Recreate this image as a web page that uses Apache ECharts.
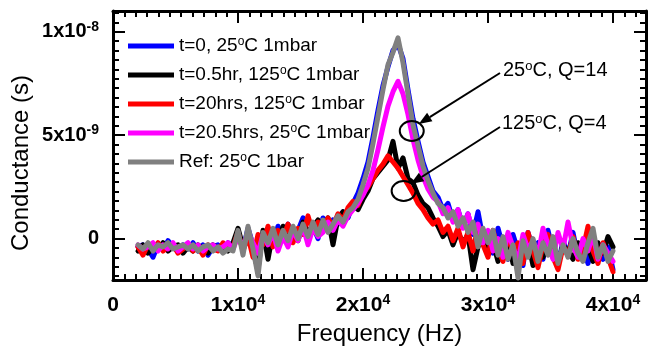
<!DOCTYPE html>
<html><head><meta charset="utf-8">
<script src="https://cdn.jsdelivr.net/npm/echarts@6/dist/echarts.min.js"></script>
<style>html,body{margin:0;padding:0;background:#fff}#c{width:650px;height:351px}</style>
</head><body><div id="c"></div>
<script>
// Frequency grid (Hz)
const freq = [2000,2400,2800,3200,3600,4000,4400,4800,5200,5600,
6000,6400,6800,7200,7600,8000,8400,8800,9200,9600,
10000,10400,10800,11200,11600,12000,12400,12800,13200,13600,
14000,14400,14800,15200,15600,16000,16400,16800,17200,17600,
18000,18400,18800,19200,19600,20000,20400,20800,21200,21600,
22000,22400,22800,23200,23600,24000,24400,24800,25200,25600,
26000,26400,26800,27200,27600,28000,28400,28800,29200,29600,
30000,30400,30800,31200,31600,32000,32400,32800,33200,33600,
34000,34400,34800,35200,35600,36000,36400,36800,37200,37600,
38000,38400,38800,39200,39600,40000];

// Conductance values in units of 1e-9 S
const blueT0 = [-0.4,-0.3,-0.5,-0.9,-0.3,-0.5,-0.1,-0.4,-0.6,-0.3,
-0.5,-0.2,-0.6,-0.3,-0.8,-0.4,-0.3,-0.5,-0.2,-0.4,
0.2,-0.5,0.5,-0.3,-0.6,0.1,0.5,-0.2,0.6,-0.1,
0.7,0.0,0.4,1.0,0.2,0.6,0.0,1.0,0.5,0.9,
0.7,1.3,1.0,1.7,2.2,2.9,3.7,4.9,6.2,7.4,
8.3,9.1,9.4,8.7,7.2,5.8,4.7,3.7,3.0,2.3,
2.0,1.4,1.7,0.9,1.4,0.6,1.2,0.2,1.3,0.0,
0.3,-0.7,0.5,-0.4,-1.0,0.2,-0.6,-1.3,0.3,-0.5,
-0.2,-1.0,0.4,-0.6,-1.3,-0.1,-0.8,0.3,-0.9,-0.4,
-1.2,-0.2,-0.7,-1.0,-0.4,-1.5];

const blackT05 = [-0.6,-0.3,-0.7,-0.4,-0.5,-0.2,-0.6,-0.4,-0.3,-0.7,
-0.4,-0.6,-0.3,-0.5,-0.7,-0.3,-0.5,-0.4,-0.6,-0.2,
0.5,-0.4,0.2,-0.6,-1.5,0.4,-1.0,0.3,-0.2,0.6,
0.1,0.5,-0.1,0.8,0.3,0.6,0.9,0.4,1.0,-0.3,
1.0,1.3,1.1,1.6,1.4,1.9,2.3,2.9,3.2,3.5,
3.8,4.7,3.4,3.9,2.9,2.7,2.1,1.7,1.5,1.0,
0.6,0.1,0.4,-0.3,0.3,-0.2,0.2,-1.5,-0.4,0.1,
-0.8,-0.2,-1.1,-0.5,0.0,-1.2,-0.4,-0.9,-0.1,-1.3,
-0.5,-0.9,0.0,-0.7,-1.2,-0.3,-0.6,-1.0,-0.2,-0.8,
-0.4,-1.1,-0.2,-0.7,0.1,-0.4];

const redT20 = [-0.4,-0.8,-0.3,-0.5,-0.2,-0.6,-0.4,-0.3,-0.7,-0.5,
-0.3,-0.6,-0.4,-0.8,-0.3,-0.5,-0.6,-0.2,-0.5,-0.4,
0.3,-0.6,0.1,-0.9,0.2,-0.3,0.6,-0.4,0.4,0.0,
0.7,-0.2,0.5,0.2,1.1,0.3,0.8,0.5,1.0,0.6,
1.2,0.9,1.5,1.8,1.6,2.2,2.5,2.9,3.3,3.6,
4.0,3.7,3.4,3.0,2.6,2.2,1.7,1.4,1.0,0.7,
0.9,0.3,0.6,-0.1,0.5,-0.4,0.3,-0.6,0.6,-0.3,
-0.9,0.4,-0.5,-1.1,0.2,-0.7,-0.2,-1.2,0.3,-0.6,
-1.4,-0.3,0.2,-0.9,-1.5,-0.4,-0.8,0.1,-1.0,-0.5,
0.6,-0.6,-1.2,-0.2,-0.9,-1.6];

const magentaT205 = [-0.3,-0.5,-0.4,-0.2,-0.6,-0.3,-0.5,-0.2,-0.6,-0.4,
-0.2,-0.5,-0.3,-0.6,-0.4,-0.3,-0.5,-0.4,-0.2,-0.5,
0.1,-0.4,0.3,-0.2,-0.7,0.2,-0.3,0.3,-0.6,0.1,
-0.4,0.4,-0.1,0.6,-0.3,0.5,0.1,0.3,0.8,0.4,
0.9,0.6,1.1,1.4,1.7,2.1,2.6,3.3,4.3,5.4,
6.4,7.1,7.6,7.0,6.0,4.8,3.8,3.0,2.4,2.0,
1.8,1.2,1.5,0.8,1.4,0.5,1.2,0.3,0.7,-0.2,
0.4,-0.6,0.0,-0.9,0.3,-0.4,-1.1,0.2,-0.5,-0.1,
-0.8,0.5,-0.3,-1.0,0.3,-0.5,0.8,-0.4,-0.9,0.0,
-0.6,0.2,-1.0,-0.3,-0.7,-1.1];

const grayRef = [-0.3,-0.5,-0.2,-0.6,-0.3,-0.4,-0.2,-0.5,-0.4,-0.3,
-0.5,-0.3,-0.6,-0.4,-0.3,-0.6,-0.4,-0.7,-0.5,-0.6,
0.4,-0.8,0.6,-0.5,-1.8,0.3,-0.2,0.5,-0.3,0.4,
-0.1,0.6,0.0,0.7,0.1,0.8,0.2,0.9,0.3,0.7,
1.1,0.8,1.3,1.5,1.9,2.6,3.4,4.6,5.9,7.2,
8.4,9.0,9.7,8.5,7.0,5.5,4.5,3.5,2.8,2.2,
1.7,1.5,1.0,1.3,0.6,1.0,0.3,0.8,-0.4,0.5,
-0.2,0.4,-0.8,0.1,-1.0,-0.3,-1.9,-0.1,-0.9,0.0,
-1.1,-0.2,-0.8,0.1,-1.2,-0.3,-0.9,0.0,-0.7,-1.1,
-0.2,0.5,-0.9,-0.3,-1.1,-0.6];

const seriesNames = ['t=0, 25°C 1mbar','t=0.5hr, 125°C 1mbar','t=20hrs, 125°C 1mbar','t=20.5hrs, 25°C 1mbar','Ref: 25°C 1bar'];
const seriesValues = [blueT0, blackT05, redT20, magentaT205, grayRef];
const seriesColors = ['#0000ff','#000000','#ff0000','#ff00ff','#808080'];

const xTicks = [0,10000,20000,30000,40000];
const xTickLabels = ['0','1x10{s|4}','2x10{s|4}','3x10{s|4}','4x10{s|4}'];
const yTicks = [0,5,10];
const yTickLabels = ['0','5x10{s|-9}','1x10{s|-8}'];

const annotations = [
  {text:'25{o|o}C, Q=14', at:[23900, 5.2], textPos:[503, 70], from:[500, 73]},
  {text:'125{o|o}C, Q=4', at:[23250, 2.3], textPos:[502, 123], from:[500, 127]}
];

const FONT = 'Liberation Sans, Arial, Helvetica, sans-serif';
const X_MIN = 0, X_MAX = 42640, Y_MIN = -2, Y_MAX = 11;

// minor tick positions (11 subdivisions per major interval)
const xMinor = [], yMinor = [];
for (let k = 0; k * 10000 / 11 <= X_MAX; k++) if (k % 11) xMinor.push(k * 10000 / 11);
for (let k = -4; k * 5 / 11 <= Y_MAX; k++) if (k % 11) yMinor.push(k * 5 / 11);

const chart = echarts.init(document.getElementById('c'), null, {renderer:'canvas'});

const tickLabelRich = {
  s: {fontSize: 14, fontWeight: 'bold', fontFamily: FONT, color: '#000', verticalAlign: 'top', lineHeight: 14}
};
function xFmt(v){ const i = xTicks.indexOf(v); return i >= 0 ? xTickLabels[i] : ''; }
function yFmt(v){ const i = yTicks.indexOf(v); return i >= 0 ? yTickLabels[i] : ''; }

function makeAxis(pos, isX, major, extra){
  return Object.assign({
    type:'value', position:pos, min: isX?X_MIN:Y_MIN, max: isX?X_MAX:Y_MAX,
    splitLine:{show:false},
    axisLine:{show:major, onZero:false, lineStyle:{color:'#000', width:3}},
    axisTick:{show:true, inside:true, length: major?12:6,
      customValues: major ? (isX?xTicks:yTicks) : (isX?xMinor:yMinor),
      lineStyle:{color:'#000', width:2}},
    axisLabel:{show:false}
  }, extra || {});
}

const xAxes = [
  makeAxis('bottom', true, true, {
    axisLabel:{show:true, customValues:xTicks, formatter:xFmt, margin:13, color:'#000', fontSize:21, fontWeight:'bold', fontFamily:FONT, lineHeight:24, rich:tickLabelRich},
    name:'Frequency (Hz)', nameLocation:'middle', nameGap:42,
    nameTextStyle:{fontSize:24, fontFamily:FONT, color:'#000'}
  }),
  makeAxis('bottom', true, false),
  makeAxis('top', true, true),
  makeAxis('top', true, false)
];
const yAxes = [
  makeAxis('left', false, true, {
    axisLabel:{show:true, customValues:yTicks, formatter:yFmt, margin:14, color:'#000', fontSize:20, fontWeight:'bold', fontFamily:FONT, lineHeight:24, rich:tickLabelRich}
  }),
  makeAxis('left', false, false),
  makeAxis('right', false, true),
  makeAxis('right', false, false)
];

// every axis shares the same range; spread the series over them so each axis has data
const axisOfSeries = [1, 2, 3, 0, 0];
const series = seriesNames.map((name, si) => ({
  name, type:'line', xAxisIndex:axisOfSeries[si], yAxisIndex:axisOfSeries[si],
  data: freq.map((f, i) => [f, seriesValues[si][i]]),
  showSymbol:false, symbol:'none', smooth:false,
  lineStyle:{color:seriesColors[si], width:5, join:'round', cap:'round'},
  itemStyle:{color:seriesColors[si]},
  emphasis:{disabled:true}, z: 2 + si
}));

chart.setOption({
  animation:false,
  backgroundColor:'#fff',
  grid:{left:113, right:4, top:11, bottom:67, containLabel:false},
  xAxis:xAxes, yAxis:yAxes,
  legend:{
    show:true, orient:'vertical', left:123, top:31, itemWidth:46, itemHeight:5, itemGap:9,
    icon:'rect', selectedMode:false, data:seriesNames,
    formatter: n => n.replace('°C', '{o|o}C'),
    textStyle:{fontSize:19, fontFamily:FONT, color:'#000', lineHeight:20,
      rich:{o:{fontSize:12, fontFamily:FONT, color:'#000', verticalAlign:'top', lineHeight:12}}}
  },
  series
});

// Annotations: circles anchored to data coordinates, arrows, labels
const g = [];
annotations.forEach(a => {
  const c = chart.convertToPixel({xAxisIndex:0, yAxisIndex:0}, a.at);
  g.push({type:'ellipse', shape:{cx:c[0], cy:c[1], rx:12, ry:10}, style:{fill:null, stroke:'#000', lineWidth:2}, z:100});
  const tip = [c[0] + 7, c[1] - 7];
  const dx = tip[0] - a.from[0], dy = tip[1] - a.from[1];
  const len = Math.sqrt(dx*dx + dy*dy), ux = dx/len, uy = dy/len;
  const hl = 13, hw = 5;
  const base = [tip[0] - ux*hl, tip[1] - uy*hl];
  g.push({type:'line', shape:{x1:a.from[0], y1:a.from[1], x2:base[0], y2:base[1]}, style:{stroke:'#000', lineWidth:2}, z:100});
  g.push({type:'polygon', shape:{points:[tip, [base[0] - uy*hw, base[1] + ux*hw], [base[0] + uy*hw, base[1] - ux*hw]]}, style:{fill:'#000'}, z:100});
  g.push({type:'text', x:a.textPos[0], y:a.textPos[1], z:100,
    style:{text:a.text, fill:'#000', font:'20px ' + FONT, verticalAlign:'middle', align:'left',
      rich:{o:{fontSize:13, fontFamily:FONT, fill:'#000', verticalAlign:'top', lineHeight:13}}}});
});
g.push({type:'text', x:21, y:163, rotation:Math.PI/2, z:100,
  style:{text:'Conductance (s)', fill:'#000', font:'24px ' + FONT, align:'center', verticalAlign:'middle'}});
chart.setOption({graphic:g});
</script></body></html>
